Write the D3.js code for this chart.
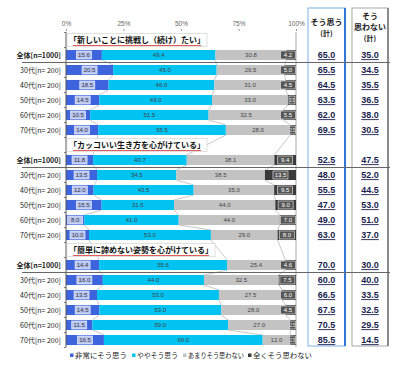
<!DOCTYPE html>
<html><head><meta charset="utf-8">
<script src="https://cdn.jsdelivr.net/npm/d3@7"></script>
<style>
html,body{margin:0;padding:0;background:#fff;}
svg{display:block;font-family:"Noto Sans CJK JP","Noto Sans",sans-serif;}
</style></head>
<body>
<svg id="c" width="400" height="368"></svg>
<script>
const groupTitles = ["「新しいことに挑戦し（続け）たい」", "「カッコいい生き方を心がけている」", "「簡単に諦めない姿勢を心がけている」"];
const rowLabels = ["全体[n=1000]", "30代[n= 200]", "40代[n= 200]", "50代[n= 200]", "60代[n= 200]", "70代[n= 200]"];
const seriesNames = ["非常にそう思う", "ややそう思う", "あまりそう思わない", "全くそう思わない"];
const seriesColors = ["#3d63dd", "#00c3f2", "#c3c3c3", "#3a3a3a"];
const tickValues = [0, 25, 50, 75, 100];
const headerSo = ["そう思う", "(計)"];
const headerNot = ["そう", "思わない", "(計)"];

const verySo     = [15.6, 20.5, 18.5, 14.5, 10.5, 14.0,  11.8, 13.5, 12.0, 15.5, 8.0, 10.0,  14.4, 16.0, 13.5, 14.5, 11.5, 16.5];
const somewhatSo = [49.4, 45.0, 46.0, 49.0, 51.5, 55.5,  40.7, 34.5, 43.5, 31.5, 41.0, 53.0,  55.6, 44.0, 53.0, 53.0, 59.0, 69.0];
const notVery    = [30.8, 29.5, 31.0, 33.0, 32.5, 28.0,  38.1, 38.5, 35.0, 44.0, 44.0, 29.0,  25.4, 32.5, 27.5, 28.0, 27.0, 12.0];
const notAtAll   = [4.2, 5.0, 4.5, 3.5, 5.5, 2.5,        9.4, 13.5, 9.5, 9.0, 7.0, 8.0,       4.6, 7.5, 6.0, 4.5, 2.5, 2.5];
const soTotal    = ["65.0", "65.5", "64.5", "63.5", "62.0", "69.5",  "52.5", "48.0", "55.5", "47.0", "49.0", "63.0",  "70.0", "60.0", "66.5", "67.5", "70.5", "85.5"];
const notTotal   = ["35.0", "34.5", "35.5", "36.5", "38.0", "30.5",  "47.5", "52.0", "44.5", "53.0", "51.0", "37.0",  "30.0", "40.0", "33.5", "32.5", "29.5", "14.5"];

const svg = d3.select("#c");
const x = d3.scaleLinear().domain([0, 100]).range([66, 296]);

const slots = [];
groupTitles.forEach((t, g) => {
  slots.push({type: "title", g, text: t});
  rowLabels.forEach((r, i) => slots.push({type: "row", g, i, idx: g * 6 + i, label: r}));
});
const y = d3.scaleBand().domain(d3.range(slots.length)).range([32.5, 347.5]).paddingInner(0.33).paddingOuter(0.165);
const step = y.step();
const cy = k => y(k) + y.bandwidth() / 2;

const rows = slots.map((s, k) => ({...s, k})).filter(s => s.type === "row");
rows.forEach(r => {
  const vals = [verySo[r.idx], somewhatSo[r.idx], notVery[r.idx], notAtAll[r.idx]];
  let c = 0;
  r.segs = vals.map((v, j) => { const s = {v, j, x0: c, x1: c + v}; c += v; return s; });
});

// header boxes
const boxTop = 8, boxBot = 346;
svg.append("rect").attr("x", 308).attr("y", boxTop).attr("width", 37).attr("height", boxBot - boxTop)
  .attr("fill", "none").attr("stroke", "#7fb0e6").attr("stroke-width", 1);
svg.append("line").attr("x1", 345).attr("x2", 345).attr("y1", boxTop).attr("y2", boxBot).attr("stroke", "#2f78d4").attr("stroke-width", 2);
svg.append("rect").attr("x", 352).attr("y", boxTop).attr("width", 36).attr("height", boxBot - boxTop)
  .attr("fill", "none").attr("stroke", "#a8a8a8").attr("stroke-width", 1);
svg.append("line").attr("x1", 388).attr("x2", 388).attr("y1", boxTop).attr("y2", boxBot).attr("stroke", "#777").attr("stroke-width", 1.6);

headerSo.forEach((t, i) => svg.append("text").attr("x", 326.5).attr("y", 25 + i * 11).attr("text-anchor", "middle")
  .attr("font-size", i === 0 ? 8 : 7).attr("font-weight", "bold").attr("fill", "#222").text(t));
headerNot.forEach((t, i) => svg.append("text").attr("x", 370).attr("y", 19 + i * 11).attr("text-anchor", "middle")
  .attr("font-size", i === 2 ? 7 : 8).attr("font-weight", "bold").attr("fill", "#222").text(t));

// top axis
const ax = svg.append("g").attr("transform", "translate(0,31)")
  .call(d3.axisTop(x).tickValues(tickValues).tickSize(2).tickFormat(d => d + "%"));
ax.select(".domain").remove();
ax.selectAll("line").attr("stroke", "#999");
ax.selectAll("text").attr("font-size", 6.5).attr("fill", "#666").attr("font-family", "Liberation Sans, Arial, sans-serif");

svg.append("line").attr("x1", 296).attr("x2", 296).attr("y1", 32).attr("y2", 347).attr("stroke", "#aaa");

// series lines
for (let a = 0; a < rows.length - 1; a++) {
  const r0 = rows[a], r1 = rows[a + 1];
  for (let j = 0; j < 3; j++) {
    svg.append("line")
      .attr("x1", x(r0.segs[j].x1)).attr("y1", y(r0.k) + y.bandwidth())
      .attr("x2", x(r1.segs[j].x1)).attr("y2", y(r1.k))
      .attr("stroke", "#b0b0b0").attr("stroke-width", 0.7);
  }
}

// bars
const rg = svg.selectAll("g.row").data(rows).join("g").attr("class", "row");
rg.selectAll("rect").data(r => r.segs.map(s => ({...s, k: r.k}))).join("rect")
  .attr("x", d => x(d.x0)).attr("width", d => x(d.x1) - x(d.x0))
  .attr("y", d => y(d.k)).attr("height", y.bandwidth())
  .attr("fill", d => seriesColors[d.j]);

rows.forEach(r => {
  r.segs.forEach(s => {
    const tx = (x(s.x0) + x(s.x1)) / 2, ty = cy(r.k);
    const label = s.v.toFixed(1);
    if (s.j === 0 || s.j === 3) {
      const w = s.j === 3 && s.v < 4 ? 6 : 15;
      const bx = s.j === 3 ? Math.min(tx, 296 - w / 2 - 0.5) : tx;
      svg.append("rect").attr("x", bx - w / 2).attr("y", ty - 4).attr("width", w).attr("height", 8)
        .attr("fill", s.j === 0 ? "#b9c6ef" : "#555").attr("stroke", s.j === 0 ? "#e8ecfa" : "#ddd").attr("stroke-width", 0.7);
      svg.append("text").attr("x", bx).attr("y", ty + 2.3).attr("text-anchor", "middle")
        .attr("font-size", 6).attr("font-family", "Liberation Sans, Arial, sans-serif")
        .attr("fill", s.j === 0 ? "#334" : "#fff")
        .attr("textLength", s.j === 3 && s.v < 4 ? 5 : null)
        .attr("lengthAdjust", "spacingAndGlyphs")
        .text(label);
    } else {
      svg.append("text").attr("x", tx).attr("y", ty + 2.3).attr("text-anchor", "middle")
        .attr("font-size", 6).attr("font-family", "Liberation Sans, Arial, sans-serif")
        .attr("fill", "#444").text(label);
    }
  });
  svg.append("text").attr("x", 61).attr("y", cy(r.k) + 2.5).attr("text-anchor", "end")
    .attr("font-size", 7).attr("fill", "#222").attr("font-weight", r.i === 0 ? "bold" : "normal").text(r.label);
  svg.append("text").attr("x", 326.5).attr("y", cy(r.k) + 3.2).attr("text-anchor", "middle")
    .attr("font-size", 9).attr("font-weight", "bold").attr("fill", "#1c1f50").attr("text-decoration", "underline")
    .attr("font-family", "Liberation Sans, Arial, sans-serif").text(soTotal[r.idx]);
  svg.append("text").attr("x", 370).attr("y", cy(r.k) + 3.2).attr("text-anchor", "middle")
    .attr("font-size", 9).attr("font-weight", "bold").attr("fill", "#1c1f50").attr("text-decoration", "underline")
    .attr("font-family", "Liberation Sans, Arial, sans-serif").text(notTotal[r.idx]);
});

// left axis with ticks
svg.append("line").attr("x1", 66).attr("x2", 66).attr("y1", 32).attr("y2", 347).attr("stroke", "#555");
d3.range(slots.length + 1).forEach(k => {
  const yy = 32.5 + k * step;
  svg.append("line").attr("x1", 64).attr("x2", 66).attr("y1", yy).attr("y2", yy).attr("stroke", "#777");
});

// separators under 全体
rows.filter(r => r.i === 0).forEach(r => {
  const yy = y(r.k) + y.bandwidth() + (step - y.bandwidth()) / 2;
  svg.append("line").attr("x1", 22).attr("x2", 390).attr("y1", yy).attr("y2", yy).attr("stroke", "#666").attr("stroke-width", 1);
});

// group titles
slots.forEach((s, k) => {
  if (s.type !== "title") return;
  const g = svg.append("g");
  const t = g.append("text").attr("x", 69).attr("y", cy(k) + 3).attr("font-size", 8).attr("font-weight", "bold")
    .attr("fill", "#111").text(s.text);
  const w = t.node().getComputedTextLength();
  g.insert("rect", "text").attr("x", 67).attr("y", cy(k) - 6.5).attr("width", w + 4).attr("height", 13)
    .attr("fill", "#fff").attr("stroke", "#ccc").attr("stroke-width", 0.6);
  g.append("line").attr("x1", 73).attr("x2", 69 + w - 4).attr("y1", cy(k) + 5.5).attr("y2", cy(k) + 5.5)
    .attr("stroke", "#e04848").attr("stroke-width", 0.9);
});

// legend
const legendX = [70, 132, 183, 248];
const legendW = [52, 41, 56, 59];
const lg = svg.append("g").attr("transform", "translate(0,357)");
seriesNames.forEach((n, j) => {
  lg.append("rect").attr("x", legendX[j]).attr("y", -3.5).attr("width", 3.5).attr("height", 3.5).attr("fill", seriesColors[j]);
  lg.append("text").attr("x", legendX[j] + 5).attr("y", 0.5).attr("font-size", 7).attr("fill", "#222")
    .attr("textLength", legendW[j]).attr("lengthAdjust", "spacingAndGlyphs").text(n);
});
</script>
</body></html>
